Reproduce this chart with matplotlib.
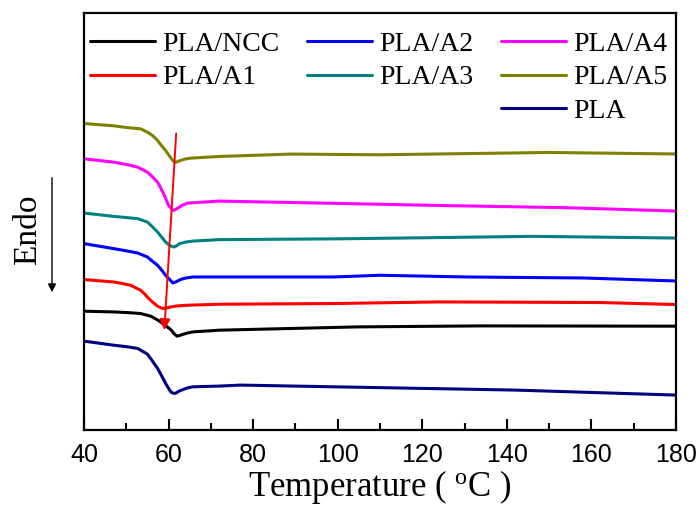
import matplotlib
matplotlib.use("Agg")
import matplotlib.pyplot as plt
from matplotlib.lines import Line2D

plt.rcParams['mathtext.fontset'] = 'custom'
plt.rcParams['mathtext.rm'] = 'Liberation Serif'

# ---- data (heat flow, arbitrary units) ----
T_A5 = [40, 47, 50, 53.4, 55, 56.2, 57.4, 58.3, 59.3, 60.2, 61, 61.6, 62.2, 62.8, 64, 65.2, 72, 89, 110, 150, 180]
y_A5 = [3.07, 3.047, 3.03, 3.017, 2.983, 2.95, 2.90, 2.85, 2.80, 2.745, 2.70, 2.68, 2.69, 2.70, 2.715, 2.723, 2.74, 2.764, 2.757, 2.78, 2.765]

T_A4 = [40, 47, 50, 52.7, 55, 56.2, 57.4, 58.8, 59.4, 60, 61, 61.5, 62.1, 63.2, 64.5, 72, 100, 122.8, 154, 180]
y_A4 = [2.717, 2.683, 2.66, 2.633, 2.583, 2.535, 2.483, 2.37, 2.31, 2.25, 2.20, 2.205, 2.22, 2.25, 2.273, 2.293, 2.27, 2.25, 2.227, 2.193]

T_A3 = [40, 47, 50, 52.7, 55, 56.2, 57.4, 58.4, 59.3, 60.2, 61.2, 61.9, 62.6, 64, 65.8, 72, 100, 122.8, 146, 180]
y_A3 = [2.173, 2.14, 2.128, 2.117, 2.083, 2.035, 1.983, 1.93, 1.883, 1.85, 1.833, 1.845, 1.867, 1.882, 1.893, 1.907, 1.915, 1.927, 1.94, 1.923]

T_A2 = [40, 47, 50, 52.7, 55, 56.2, 57.4, 58.4, 59.3, 60.2, 61, 61.8, 62.8, 64, 65.8, 72, 99, 110, 130.5, 158, 180]
y_A2 = [1.867, 1.817, 1.795, 1.773, 1.733, 1.69, 1.65, 1.60, 1.55, 1.51, 1.473, 1.485, 1.507, 1.522, 1.533, 1.533, 1.533, 1.55, 1.533, 1.523, 1.493]

T_A1 = [40, 47, 49, 51, 52.2, 53.4, 54.4, 55.3, 56.4, 57.4, 58.6, 59.5, 60.5, 62, 64.5, 72, 99, 124, 162, 180]
y_A1 = [1.507, 1.483, 1.468, 1.45, 1.425, 1.40, 1.36, 1.317, 1.275, 1.24, 1.217, 1.222, 1.233, 1.243, 1.25, 1.26, 1.267, 1.283, 1.277, 1.257]

T_NCC = [40, 47, 50, 53.4, 55.8, 57, 58.1, 59.3, 60.5, 61.3, 62, 62.7, 63.5, 64.5, 65.8, 72, 104.7, 133.9, 180]
y_NCC = [1.19, 1.183, 1.177, 1.167, 1.14, 1.112, 1.083, 1.045, 1.007, 0.965, 0.94, 0.948, 0.96, 0.972, 0.983, 1.0, 1.033, 1.043, 1.04]

T_PLA = [40, 47, 50, 52.7, 55, 56.2, 57.4, 58.4, 59.3, 60.5, 61, 61.6, 62.5, 63.5, 64.5, 65.8, 72, 77, 106.8, 142, 180]
y_PLA = [0.89, 0.85, 0.835, 0.817, 0.76, 0.69, 0.617, 0.54, 0.467, 0.383, 0.37, 0.367, 0.39, 0.407, 0.422, 0.433, 0.44, 0.45, 0.427, 0.40, 0.35]

labels = ["PLA/NCC", "PLA/A1", "PLA/A2", "PLA/A3", "PLA/A4", "PLA/A5", "PLA"]
colors = ["#000000", "#FF0000", "#0000FF", "#008080", "#FF00FF", "#808000", "#000080"]
xticks = [40, 60, 80, 100, 120, 140, 160, 180]

# trend arrow (Tg shift), from/to in data units
arrow_start = (61.8, 2.97)
arrow_end = (59.0, 1.0)

series = [(T_NCC, y_NCC), (T_A1, y_A1), (T_A2, y_A2), (T_A3, y_A3),
          (T_A4, y_A4), (T_A5, y_A5), (T_PLA, y_PLA)]

fig = plt.figure(figsize=(7.0, 5.08), dpi=100)
ax = fig.add_axes([0.12, 0.1535, 0.8457, 0.8215])

handles = {}
for (t, y), lab, c in zip(series, labels, colors):
    ln, = ax.plot(t, y, color=c, lw=2.2, label=lab,
                  solid_joinstyle='round', solid_capstyle='round')
    handles[lab] = ln

ax.annotate("", xy=arrow_end, xytext=arrow_start,
            arrowprops=dict(arrowstyle='-|>', color='red', lw=1.4,
                            mutation_scale=16, shrinkA=0, shrinkB=0))

ax.set_xlim(40, 180)
ax.set_ylim(0, 4.18)
ax.set_xticks(xticks)
ax.set_xticks(range(50, 180, 20), minor=True)
ax.set_yticks([])
for s in ax.spines.values():
    s.set_linewidth(1.6)
ax.tick_params(axis='x', which='major', direction='in', length=8, width=1.5,
               labelsize=18, pad=9)
ax.tick_params(axis='x', which='minor', direction='in', length=5, width=1.5)
for lbl in ax.get_xticklabels():
    lbl.set_family('Liberation Sans')

ax.set_xlabel(r"Temperature ( $\mathregular{^{o}}$C )", fontsize=25,
              family='Liberation Serif', labelpad=1)

blank = Line2D([], [], color='none')
order = [handles["PLA/NCC"], handles["PLA/A1"], blank,
         handles["PLA/A2"], handles["PLA/A3"], blank,
         handles["PLA/A4"], handles["PLA/A5"], handles["PLA"]]
order_labels = ["PLA/NCC", "PLA/A1", "", "PLA/A2", "PLA/A3", "", "PLA/A4", "PLA/A5", "PLA"]
ax.legend(order, order_labels, ncol=3, loc='upper left',
          bbox_to_anchor=(0.0101, 0.956), frameon=False, borderpad=0,
          borderaxespad=0, handlelength=2.34, handletextpad=0.25,
          columnspacing=1.0, labelspacing=0.3,
          prop={'family': 'Liberation Serif', 'size': 20})

fig.text(0.04, 0.547, "Endo", rotation=90, fontsize=24, family='Liberation Serif',
         ha='center', va='center')
fig.add_artist(matplotlib.patches.FancyArrowPatch(
    (0.0743, 0.6555), (0.0743, 0.4193), transform=fig.transFigure,
    arrowstyle='-|>', mutation_scale=12, color='black', lw=1.0))

fig.savefig("out.png", dpi=100)
